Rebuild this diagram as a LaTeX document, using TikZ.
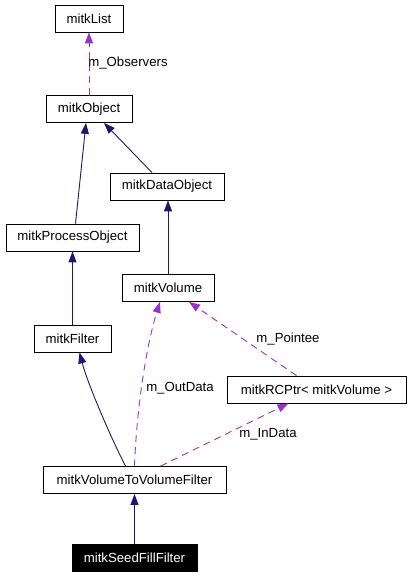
\documentclass[tikz,border=0pt]{standalone}
\usepackage[svgnames]{xcolor}
\usepackage{fontspec}
\setmainfont{Liberation Sans}
\usepackage{tikz}
\usetikzlibrary{arrows.meta}

\begin{document}
\begin{tikzpicture}[x=1pt, y=-1pt,
  cls/.style={draw, rectangle, line width=0.8pt, minimum height=27pt, inner sep=0pt, font=\fontsize{13.2}{15}\selectfont},
  inherit/.style={color=MidnightBlue, line width=0.9pt, -{Triangle[length=11pt,width=8pt]}},
  member/.style={color=DarkOrchid, line width=0.9pt, dash pattern=on 7pt off 5pt, -{Triangle[length=11pt,width=8pt]}},
  lbl/.style={text=black, font=\fontsize{13.2}{15}\selectfont}]
\useasboundingbox (0,0) rectangle (411,576);
%%%%% Classes %%%%%
\node[cls, minimum width=68pt]  (list)    at (89,18.5)    {mitkList};
\node[cls, minimum width=86pt]  (object)  at (89,109)     {mitkObject};
\node[cls, minimum width=114pt] (data)    at (167,186.5)  {mitkDataObject};
\node[cls, minimum width=133pt] (process) at (72.5,237.5) {mitkProcessObject};
\node[cls, minimum width=92pt]  (volume)  at (168,288)    {mitkVolume};
\node[cls, minimum width=77pt]  (filter)  at (72.5,338.5) {mitkFilter};
\node[cls, minimum width=179pt] (rcptr)   at (316.5,389.5) {mitkRCPtr< mitkVolume >};
\node[cls, minimum width=183pt] (vtvf)    at (134.5,480)  {mitkVolumeToVolumeFilter};
\node[cls, minimum width=125pt, fill=black, text=white] (seed) at (134.5,557.5) {mitkSeedFillFilter};
%%%%% Inheritance %%%%%
\draw[inherit] ([xshift=3pt]process.north) -- ([xshift=-3pt]object.south);
\draw[inherit] ([xshift=-15pt]data.north) -- ([xshift=15pt]object.south);
\draw[inherit] (volume.north) -- (volume.north |- data.south);
\draw[inherit] (filter.north) -- (process.south);
\draw[inherit] ([xshift=-9pt]vtvf.north) .. controls (112,440) and (88,385) .. ([xshift=7pt]filter.south);
\draw[inherit] (seed.north) -- (vtvf.south);
%%%%% Members %%%%%
\draw[member] (object.north) -- (list.south);
\node[lbl] (obslbl) at (128,63) {m\_Observers};
\draw[member] (vtvf.north) .. controls (137,400) and (148,340) .. ([xshift=-8pt]volume.south);
\node[lbl] (outlbl) at (180,388) {m\_OutData};
\draw[member] ([xshift=-20pt]rcptr.north) -- ([xshift=21pt]volume.south);
\node[lbl] (ptrlbl) at (288,339) {m\_Pointee};
\draw[member] ([xshift=26pt]vtvf.north) -- ([xshift=-28pt]rcptr.south);
\node[lbl] (inlbl) at (268,434) {m\_InData};
\end{tikzpicture}
\end{document}
